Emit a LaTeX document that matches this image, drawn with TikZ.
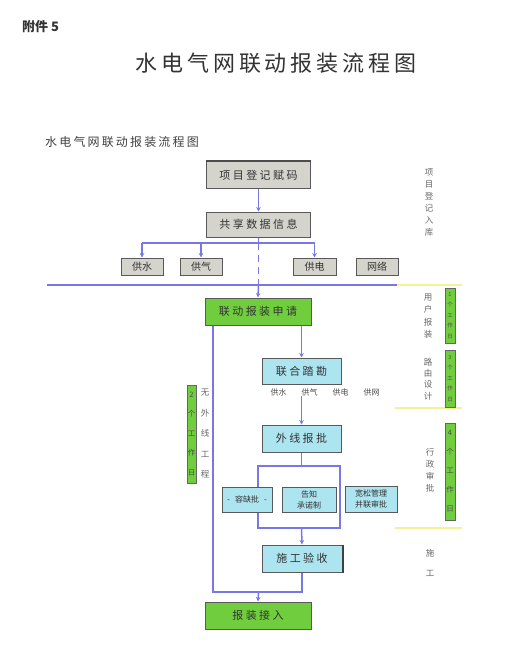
\documentclass[tikz,border=0pt]{standalone}
\usepackage{fontspec}
\newfontfamily\cjk{Noto Sans CJK SC}
\newfontfamily\cjkT{Noto Sans CJK SC}[LetterSpace=18]
\newfontfamily\cjkB{Noto Sans CJK SC}[LetterSpace=22]
\usetikzlibrary{arrows.meta,backgrounds}
\definecolor{lineblue}{RGB}{120,120,228}
\definecolor{boxgray}{RGB}{212,212,204}
\definecolor{boxgreen}{RGB}{112,206,62}
\definecolor{boxcyan}{RGB}{172,228,240}
\definecolor{lineyellow}{RGB}{246,240,150}
\tikzset{
 ln/.style={draw=lineblue, line width=1.5pt},
 arr/.style={ln, -{Stealth[length=4.5pt,width=4.5pt]}},
 box/.style={draw=black!65, line width=1pt, inner sep=0pt, align=center, text=black!80},
 bigtext/.style={font=\cjkB\fontsize{11}{13}\selectfont},
 smalltext/.style={font=\cjk\fontsize{10}{12}\selectfont},
 tinytext/.style={font=\cjk\fontsize{8}{11}\selectfont},
 graybox/.style={box, fill=boxgray},
 greenbox/.style={box, fill=boxgreen},
 cyanbox/.style={box, fill=boxcyan},
 vlabel/.style={inner sep=0pt, align=center, text=black!60},
 tagbox/.style={draw=black!60, fill=boxgreen, line width=0.8pt, inner sep=0pt, align=center, text=black!70, minimum width=10pt},
 yl/.style={draw=lineyellow, line width=1.6pt},
}
\begin{document}
\begin{tikzpicture}[x=1pt,y=-1pt]
\useasboundingbox (0,0) rectangle (510,663);
% headings
\node[inner sep=0pt, anchor=west, font=\cjk\bfseries\fontsize{13}{15}\selectfont, text=black!80] (fj) at (22,27) {附件 5};
\node[inner sep=0pt, font=\cjkT\fontsize{22}{26}\selectfont, text=black!80] (title) at (276,63) {水电气网联动报装流程图};
\node[inner sep=0pt, anchor=west, font=\cjkT\fontsize{12}{14}\selectfont, text=black!75] (sub) at (45,142) {水电气网联动报装流程图};
% main boxes
\node[graybox, bigtext, minimum width=104pt, minimum height=26pt] (n1) at (258.5,175) {项目登记赋码};
\node[graybox, bigtext, minimum width=104pt, minimum height=25pt] (n2) at (258.5,224.5) {共享数据信息};
\node[graybox, smalltext, minimum width=42pt, minimum height=17pt] (gs) at (142,266.5) {供水};
\node[graybox, smalltext, minimum width=42pt, minimum height=17pt] (gq) at (201,266.5) {供气};
\node[graybox, smalltext, minimum width=43pt, minimum height=17pt] (gd) at (314.5,266.5) {供电};
\node[graybox, smalltext, minimum width=42pt, minimum height=17pt] (wl) at (377,266.5) {网络};
\node[greenbox, bigtext, minimum width=106pt, minimum height=27pt] (ap) at (258,311.5) {联动报装申请};
\node[cyanbox, bigtext, minimum width=79pt, minimum height=26pt] (lk) at (301.5,371) {联合踏勘};
\node[inner sep=0pt, font=\cjk\fontsize{8}{10}\selectfont, text=black!70] (lkl) at (325,392) {供水\hspace{15pt}供气\hspace{15pt}供电\hspace{15pt}供网};
\node[cyanbox, bigtext, minimum width=79pt, minimum height=27pt] (wx) at (301.5,438.5) {外线报批};
\node[cyanbox, tinytext, minimum width=50pt, minimum height=25pt] (rq) at (247,499.5) {-\hspace{5pt}容缺批\hspace{5pt}-};
\node[cyanbox, tinytext, minimum width=54pt, minimum height=25pt] (gz) at (309,499.5) {告知\\承诺制};
\node[cyanbox, tinytext, minimum width=52pt, minimum height=26pt] (ks) at (371,499) {宽松管理\\并联审批};
\node[cyanbox, bigtext, minimum width=80pt, minimum height=27pt] (sg) at (302,558.5) {施工验收};
\node[greenbox, bigtext, minimum width=106pt, minimum height=27pt] (bz) at (258,615.5) {报装接入};
\draw[black!70, line width=2pt] (n1.north west) -- (n1.north east);
\draw[black!75, line width=2pt] (sg.north east) -- (sg.south east);
% side labels
\node[vlabel, font=\cjk\fontsize{8.5}{12}\selectfont] (v1) at (429,202) {项\\目\\登\\记\\入\\库};
\node[vlabel, font=\cjk\fontsize{8.5}{12.3}\selectfont] (v2) at (428,316) {用\\户\\报\\装};
\node[vlabel, font=\cjk\fontsize{8.5}{11.3}\selectfont] (v3) at (428,379) {路\\由\\设\\计};
\node[vlabel, font=\cjk\fontsize{8.5}{12}\selectfont] (v4) at (430,470) {行\\政\\审\\批};
\node[vlabel, font=\cjk\fontsize{8.5}{20}\selectfont] (v5) at (430,563) {施\\工};
\node[vlabel, font=\cjk\fontsize{8.5}{20.5}\selectfont] (v6) at (205,434) {无\\外\\线\\工\\程};
\node[tagbox, font=\cjk\fontsize{5.5}{10.5}\selectfont, minimum height=55pt] (b1) at (450,315.5) {1\\个\\工\\作\\日};
\node[tagbox, font=\cjk\fontsize{5.5}{10.5}\selectfont, minimum height=57pt] (b2) at (450,378.5) {3\\个\\工\\作\\日};
\node[tagbox, font=\cjk\fontsize{7.5}{19}\selectfont, minimum height=97pt] (b3) at (450,471.5) {4\\个\\工\\作\\日};
\node[tagbox, font=\cjk\fontsize{7.5}{19.5}\selectfont, minimum height=98pt, minimum width=9pt] (b4) at (191.5,434) {2\\个\\工\\作\\日};
% connectors
\begin{pgfonlayer}{background}
\coordinate (j1) at (258.5,243);
\coordinate (hl) at (258.5,285);
\coordinate (hL) at (47,285);
\coordinate (hR) at (397,285);
\coordinate (hY) at (462,285);
\coordinate (lx) at (213,0);
\coordinate (jb) at (258.5,592);
\coordinate (t1) at (301.5,466);
\coordinate (t2) at (301.5,528);
\coordinate (bl) at (258,0);
\coordinate (br) at (340,0);
\coordinate (y1a) at (395,408);
\coordinate (y1b) at (462,408);
\coordinate (y2a) at (395,528);
\coordinate (y2b) at (462,528);
\draw[arr] (n1) -- (n2);
\draw[ln] (n2.south) -- (j1);
\draw[ln] (gs.north |- j1) -- (gd.north |- j1);
\draw[arr] (gs.north |- j1) -- (gs.north);
\draw[arr] (gq.north |- j1) -- (gq.north);
\draw[arr] (gd.north |- j1) -- (gd.north);
\draw[ln, dash pattern=on 7pt off 5pt] (j1) -- (hl);
\draw[ln] (hL) -- (hR);
\draw[yl] (hR) -- (hY);
\draw[yl] (y1a) -- (y1b);
\draw[yl] (y2a) -- (y2b);
\draw[arr] (hl) -- (ap.north);
\draw[ln] (ap.south -| lx) -- (lx |- jb) -- (sg.south |- jb) -- (sg.south);
\draw[arr] (jb) -- (bz.north);
\draw[arr] (ap.south -| lk) -- (lk.north);
\draw[arr] (lkl.south -| wx) -- (wx.north);
\draw[ln] (wx.south) -- (t1);
\draw[ln] (bl |- t1) -- (br |- t1) -- (br |- t2) -- (bl |- t2) -- cycle;
\draw[arr] (t2) -- (sg.north);
\end{pgfonlayer}
\end{tikzpicture}
\end{document}
